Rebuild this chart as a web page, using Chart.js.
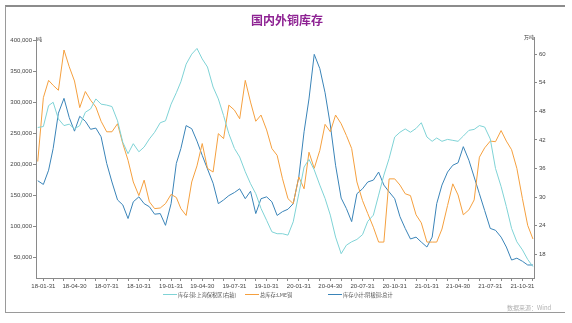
<!DOCTYPE html>
<html>
<head>
<meta charset="utf-8">
<script src="https://cdn.jsdelivr.net/npm/chart.js@4.4.0/dist/chart.umd.min.js"></script>
<style>
  body { margin: 0; background: #fff; }
  #wrap { position: relative; width: 572px; height: 323px; }
  #frame { position: absolute; left: 5px; top: 5px; width: 559px; height: 305px;
           border-top: 2px solid #8c8c8c; border-left: 1px solid #9a9a9a; border-bottom: 1px solid #9a9a9a; }
  .txt { position: absolute; font-family: "Noto Sans CJK SC", sans-serif; white-space: nowrap; }
  #title { left: 0; width: 574px; top: 11px; text-align: center; font-size: 12px; font-weight: bold; color: #8e2293; }
  .unit { font-size: 5px; color: #333; }
  .leg { top: 291px; font-size: 5.2px; color: #555; line-height: 7px; }
  .legline { position: absolute; top: 294px; width: 14px; height: 1px; }
  #src { left: 507px; top: 303px; font-size: 6px; color: #b0b0b0; }
</style>
</head>
<body>
<div id="wrap">
  <canvas id="chart" width="572" height="323"></canvas>
  <div id="frame"></div>
  <div id="title" class="txt">国内外铜库存</div>
  <div class="txt unit" style="left:37px; top:35px;">吨</div>
  <div class="txt unit" style="left:524px; top:33px;">万吨</div>
  <div class="legline" style="left:163px; background:#7fd3d6;"></div>
  <div class="txt leg" style="left:178px;">库存:铜:上海保税区(右轴)</div>
  <div class="legline" style="left:245px; background:#f5a03f;"></div>
  <div class="txt leg" style="left:260px;">总库存:LME铜</div>
  <div class="legline" style="left:328px; background:#3a84b8;"></div>
  <div class="txt leg" style="left:343px;">库存小计:阴极铜:总计</div>
  <div id="src" class="txt">数据来源：Wind</div>
</div>
<script>
// semi-monthly observation dates
const dates = [
  '2018-01-15','2018-01-31','2018-02-15','2018-02-28','2018-03-15','2018-03-31','2018-04-15','2018-04-30',
  '2018-05-15','2018-05-31','2018-06-15','2018-06-30','2018-07-15','2018-07-31','2018-08-15','2018-08-31',
  '2018-09-15','2018-09-30','2018-10-15','2018-10-31','2018-11-15','2018-11-30','2018-12-15','2018-12-31',
  '2019-01-15','2019-01-31','2019-02-15','2019-02-28','2019-03-15','2019-03-31','2019-04-15','2019-04-30',
  '2019-05-15','2019-05-31','2019-06-15','2019-06-30','2019-07-15','2019-07-31','2019-08-15','2019-08-31',
  '2019-09-15','2019-09-30','2019-10-15','2019-10-31','2019-11-15','2019-11-30','2019-12-15','2019-12-31',
  '2020-01-15','2020-01-31','2020-02-15','2020-02-29','2020-03-15','2020-03-31','2020-04-15','2020-04-30',
  '2020-05-15','2020-05-31','2020-06-15','2020-06-30','2020-07-15','2020-07-31','2020-08-15','2020-08-31',
  '2020-09-15','2020-09-30','2020-10-15','2020-10-31','2020-11-15','2020-11-30','2020-12-15','2020-12-31',
  '2021-01-15','2021-01-31','2021-02-15','2021-02-28','2021-03-15','2021-03-31','2021-04-15','2021-04-30',
  '2021-05-15','2021-05-31','2021-06-15','2021-06-30','2021-07-15','2021-07-31','2021-08-15','2021-08-31',
  '2021-09-15','2021-09-30','2021-10-15','2021-10-31','2021-11-15','2021-11-30'
];

// 库存:铜:上海保税区 (万吨, right axis)
const bondedStock = [
  44.6, 44.8, 49.2, 49.9, 46.4, 45.0, 45.3, 44.3, 45.0, 47.8, 48.5, 50.6, 49.5, 49.3, 49.0, 46.0,
  41.5, 39.1, 41.2, 39.5, 40.5, 42.2, 43.6, 45.6,
  46.0, 49.5, 51.9, 54.2, 57.9, 60.0, 61.2, 59.0, 57.3, 53.1, 50.6, 47.1, 43.3, 40.2, 38.4, 35.3,
  32.8, 30.7, 27.6, 25.1, 22.7, 22.3, 22.3, 22.0,
  24.8, 30.7, 36.3, 37.9, 35.7, 32.5, 29.7, 26.2, 21.6, 18.1, 19.9, 20.6, 21.1, 22.1, 24.9, 26.2,
  30.4, 34.6, 38.1, 42.6, 43.6, 44.3, 43.6, 44.4,
  45.6, 42.6, 41.7, 42.4, 41.7, 42.1, 41.9, 41.7, 42.8, 44.0, 44.2, 45.0, 44.7, 42.2, 36.0, 32.2,
  28.0, 23.4, 20.6, 18.9, 16.9, 15.4
];

// 总库存:LME铜 (吨, left axis)
const lmeStock = [
  205000, 308000, 336000, 328000, 320000, 385000, 358000, 335000, 292000, 318000, 304000, 293000,
  270000, 253000, 253000, 266000, 234000, 207000, 172000, 150000, 175000, 140000, 129000, 130000,
  137000, 152000, 147000, 129000, 118000, 172000, 198000, 234000, 194000, 188000, 250000, 242000,
  296000, 288000, 274000, 336000, 301000, 270000, 280000, 256000, 226000, 215000, 178000, 145000,
  137000, 180000, 161000, 220000, 194000, 223000, 265000, 253000, 280000, 266000, 247000, 226000,
  172000, 142000, 121000, 99000, 75000, 75000, 177000, 177000, 167000, 153000, 150000, 119000,
  106000, 75000, 75000, 75000, 96000, 134000, 169000, 151000, 119000, 127000, 143000, 212000,
  227000, 238000, 237000, 255000, 238000, 224000, 194000, 145000, 102000, 80000
];

// 库存小计:阴极铜:总计 (吨, left axis)
const shfeStock = [
  174000, 168000, 191000, 226000, 283000, 307000, 276000, 254000, 278000, 270000, 257000, 259000,
  245000, 202000, 172000, 143000, 135000, 113000, 140000, 148000, 137000, 132000, 120000, 121000,
  102000, 137000, 202000, 226000, 263000, 258000, 238000, 215000, 193000, 170000, 137000, 143000,
  150000, 155000, 161000, 145000, 157000, 121000, 145000, 148000, 140000, 118000, 124000, 128000,
  137000, 180000, 253000, 306000, 378000, 355000, 316000, 264000, 199000, 146000, 129000, 108000,
  153000, 161000, 172000, 175000, 188000, 167000, 156000, 145000, 116000, 97000, 80000, 83000,
  75000, 67000, 83000, 137000, 167000, 188000, 199000, 203000, 229000, 207000, 180000, 153000,
  126000, 97000, 94000, 83000, 67000, 46000, 49000, 44000, 38000, 38000
];

const xTickLabels = ['18-01-31','18-04-30','18-07-31','18-10-31','19-01-31','19-04-30','19-07-31','19-10-31',
  '20-01-31','20-04-30','20-07-31','20-10-31','21-01-31','21-04-30','21-07-31','21-10-31'];
const leftTicks = [50000, 100000, 150000, 200000, 250000, 300000, 350000, 400000];
const rightTicks = [18, 24, 30, 36, 42, 48, 54, 60];

const base = Date.parse('2018-01-31');
const dayOf = d => (Date.parse(d) - base) / 864e5;

// month-end tick positions, label only quarterly ones
const monthEnds = [];
for (let y = 2018; y <= 2021; y++) {
  for (let m = 0; m < 12; m++) {
    const d = new Date(Date.UTC(y, m + 1, 0));
    const s = d.toISOString().slice(0, 10);
    if (s >= '2018-01-31' && s <= '2021-11-30') monthEnds.push(s);
  }
}
const labelFor = {};
xTickLabels.forEach(l => { labelFor['20' + l] = l; });

const toPoints = arr => arr.map((v, i) => ({ x: dayOf(dates[i]), y: v }));

const tickFont = { family: 'Liberation Sans', size: 6 };
const axisColor = '#8a8a8a';

new Chart(document.getElementById('chart'), {
  type: 'line',
  data: {
    datasets: [
      { label: '库存:铜:上海保税区(右轴)', data: toPoints(bondedStock), yAxisID: 'yR',
        borderColor: '#7fd3d6', borderWidth: 1, pointRadius: 0, tension: 0 },
      { label: '总库存:LME铜', data: toPoints(lmeStock), yAxisID: 'yL',
        borderColor: '#f5a03f', borderWidth: 1, pointRadius: 0, tension: 0 },
      { label: '库存小计:阴极铜:总计', data: toPoints(shfeStock), yAxisID: 'yL',
        borderColor: '#3a84b8', borderWidth: 1, pointRadius: 0, tension: 0 }
    ]
  },
  options: {
    responsive: false,
    animation: false,
    devicePixelRatio: 1,
    layout: { padding: { top: 37, left: 0, right: 0, bottom: 0 } },
    plugins: { legend: { display: false }, tooltip: { enabled: false } },
    scales: {
      x: {
        type: 'linear', min: -21, max: 1402,
        afterBuildTicks: axis => { axis.ticks = monthEnds.map(d => ({ value: dayOf(d) })); },
        afterFit: s => { s.height = 45; },
        ticks: {
          autoSkip: false, maxRotation: 0, padding: 2, color: '#444', font: tickFont,
          callback: (v, i) => labelFor[monthEnds[i]] || ''
        },
        grid: { drawOnChartArea: false, tickLength: 3, color: axisColor },
        border: { color: axisColor }
      },
      yL: {
        position: 'left', min: 17000, max: 406000,
        afterBuildTicks: axis => { axis.ticks = leftTicks.map(v => ({ value: v })); },
        afterFit: s => { s.width = 36; },
        ticks: { padding: 1, color: '#444', font: tickFont },
        grid: { drawOnChartArea: false, tickLength: 3, color: axisColor },
        border: { color: axisColor }
      },
      yR: {
        position: 'right', min: 13, max: 63.6,
        afterBuildTicks: axis => { axis.ticks = rightTicks.map(v => ({ value: v })); },
        afterFit: s => { s.width = 38; },
        ticks: { padding: 2, color: '#444', font: tickFont },
        grid: { drawOnChartArea: false, tickLength: 3, color: axisColor },
        border: { color: axisColor }
      }
    }
  }
});
</script>
</body>
</html>
